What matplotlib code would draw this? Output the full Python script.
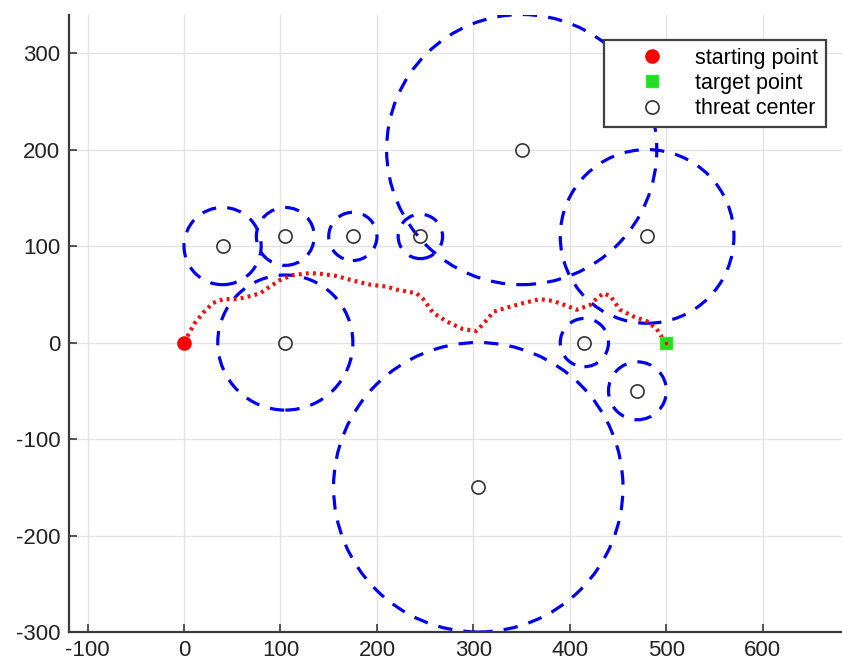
import numpy as np
import matplotlib
matplotlib.use("Agg")
import matplotlib.pyplot as plt
from matplotlib.patches import Circle

plt.rcParams['font.family'] = ['Liberation Sans', 'DejaVu Sans']
plt.rcParams['axes.unicode_minus'] = False

# threat areas: centers and radii
threat_x = [40, 105, 175, 245, 350, 480, 105, 305, 415, 470]
threat_y = [100, 110, 110, 110, 200, 110, 0, -150, 0, -50]
threat_r = [40, 30, 25, 23, 140, 90, 70, 150, 25, 30]

start = (0, 0)
target = (500, 0)

# planned path
path_x = [0, 11, 20, 30, 41, 55, 68, 79, 89, 100, 113, 131, 144, 158, 176, 193, 210,
          220, 241, 248, 258, 272, 289, 303, 310, 321, 334, 352, 369, 383, 397, 407,
          421, 428, 435, 442, 452, 466, 480, 490, 497, 500]
path_y = [0, 20, 31, 41, 45, 45, 48, 51, 58, 65, 70, 72, 71, 69, 64, 60, 58,
          55, 51, 45, 31, 22, 14, 12, 19, 32, 36, 41, 45, 43, 38, 34,
          39, 46, 51, 48, 34, 27, 22, 14, 3, 0]

xticks = [-100, 0, 100, 200, 300, 400, 500, 600]
yticks = [-300, -200, -100, 0, 100, 200, 300]

W, H = 842, 671
fig = plt.figure(figsize=(W / 100, H / 100), dpi=100)
ax = fig.add_axes([68.7 / W, 39 / H, (W - 68.7) / W, (632 - 15) / H])

for cx, cy, r in zip(threat_x, threat_y, threat_r):
    ax.add_patch(Circle((cx, cy), r, fill=False, edgecolor='#0000ee',
                        linewidth=2.3, linestyle=(0, (4.5, 3.5))))

ax.plot(path_x, path_y, color='#ee1111', linewidth=3, linestyle=(0, (0.7, 1.0)),
        zorder=3)

ax.plot(*start, 'o', color='red', markersize=9.5, zorder=4, label='starting point')
ax.plot(*target, 's', markerfacecolor='#22dd22', markeredgecolor='#22ee22',
        markersize=8.5, zorder=4, label='target point')
ax.plot(path_x[-1], path_y[-1], '.', color='#cc1111', markersize=3, zorder=5)
ax.plot(threat_x, threat_y, 'o', markerfacecolor='none', markeredgecolor='#333333',
        markersize=9.5, markeredgewidth=1.2, linestyle='none', zorder=4,
        label='threat center')

ax.set_xlim(-119.5, 682)
ax.set_ylim(-300, 339.5)
ax.set_xticks(xticks)
ax.set_yticks(yticks)
ax.grid(True, color='#e3e3e3', linewidth=1)
ax.set_axisbelow(True)
for s in ['top', 'right']:
    ax.spines[s].set_visible(False)
for s in ['left', 'bottom']:
    ax.spines[s].set_color('#3a3a3a')
    ax.spines[s].set_linewidth(1.6)
ax.tick_params(direction='in', length=6, width=1.2, color='#3a3a3a',
               labelsize=16, labelcolor='#222222', pad=6)

leg = ax.legend(loc='upper right', bbox_to_anchor=(826 / W, 1 - 40 / H),
                bbox_transform=fig.transFigure, fontsize=15.5, frameon=True,
                fancybox=False, edgecolor='#404040', framealpha=1,
                handlelength=3.75, handletextpad=0.15, borderpad=0.35,
                labelspacing=0.2, borderaxespad=0)
leg.get_frame().set_linewidth(1.6)
leg.set_zorder(10)

fig.savefig('out.png', dpi=100)
